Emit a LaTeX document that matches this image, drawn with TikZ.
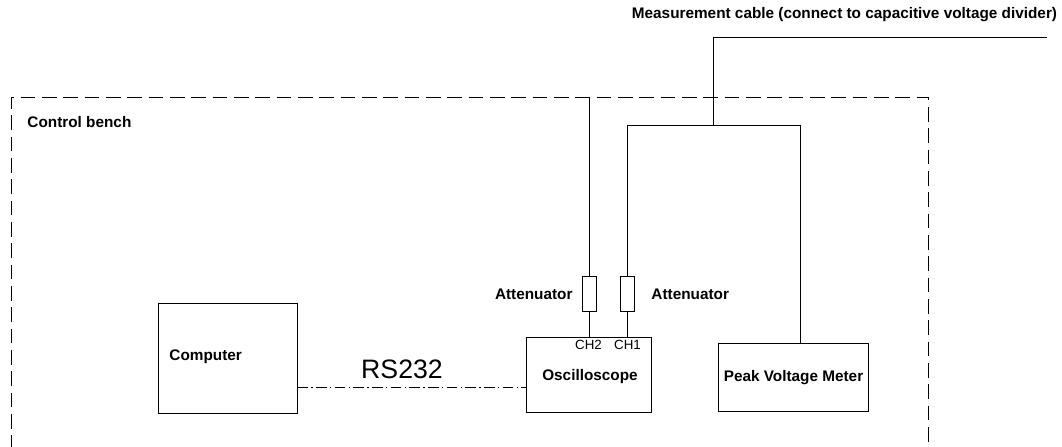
\documentclass[tikz,border=0pt]{standalone}
\usepackage{fontspec}
\setmainfont{Liberation Sans}
\begin{document}
\begin{tikzpicture}[x=0.75pt,y=-0.75pt, line width=0.7pt,
  blk/.style={draw, rectangle, inner sep=0pt},
  attbox/.style={draw, rectangle, inner sep=0pt, minimum width=10.5pt, minimum height=26.25pt},
  lbl/.style={font=\fontsize{11.5}{13}\selectfont\bfseries, inner sep=0pt},
  chl/.style={font=\fontsize{10}{12}\selectfont, inner sep=0pt},
  rsl/.style={font=\fontsize{20}{24}\selectfont, inner sep=0pt},
  bench/.style={dash pattern=on 11pt off 5pt},
  rsline/.style={dash pattern=on 8pt off 2.5pt on 1pt off 2.5pt}]
\useasboundingbox (0,0) rectangle (1062,446);
\clip (0,0) rectangle (1062,446);
% control bench (open at bottom)
\draw[bench] (11,450) -- (11,97) -- (928,97) -- (928,450);
\node[lbl, anchor=west] (benchlbl) at (27,122) {Control bench};
% blocks
\node[blk, minimum width=104.25pt, minimum height=82.5pt] (comp) at (227.5,358) {};
\node[lbl, anchor=west] (comptxt) at (169,357) {Computer};
\node[blk, minimum width=93.75pt, minimum height=56.25pt] (osc) at (588.5,374.5) {};
\node[lbl] (osctxt) at (590,377) {Oscilloscope};
\node[chl] (ch2) at (588.5,345) {CH2};
\node[chl] (ch1) at (627.5,345) {CH1};
\node[blk, minimum width=112.5pt, minimum height=51pt] (peak) at (793,377) {};
\node[lbl] (peaktxt) at (793.5,378) {Peak Voltage Meter};
% attenuators
\node[attbox] (att2) at (589,293.5) {};
\node[attbox] (att1) at (627,293.5) {};
\node[lbl, anchor=east] (att2lbl) at (573,294) {Attenuator};
\node[lbl, anchor=west] (att1lbl) at (651,294) {Attenuator};
% measurement cable
\node[lbl] (cablelbl) at (844.5,15) {Measurement cable (connect to capacitive voltage divider)};
\coordinate (top2) at (589,97);
\coordinate (j) at (713,125);
\coordinate (jtop) at (713,37);
\coordinate (cend) at (1047,37);
\coordinate (pk) at (800,125);
\draw (top2) -- (att2.north);
\draw (att2.south) -- (att2.south |- osc.north);
\draw (att1.south) -- (att1.south |- osc.north);
\draw (cend) -- (jtop) -- (j);
\draw (att1.north) |- (pk) -- (pk |- peak.north);
% RS232 link
\coordinate (rs) at (0,387);
\draw[rsline] (comp.east |- rs) -- (osc.west |- rs);
\node[rsl] (rslbl) at (402,369) {RS232};
\end{tikzpicture}
\end{document}
